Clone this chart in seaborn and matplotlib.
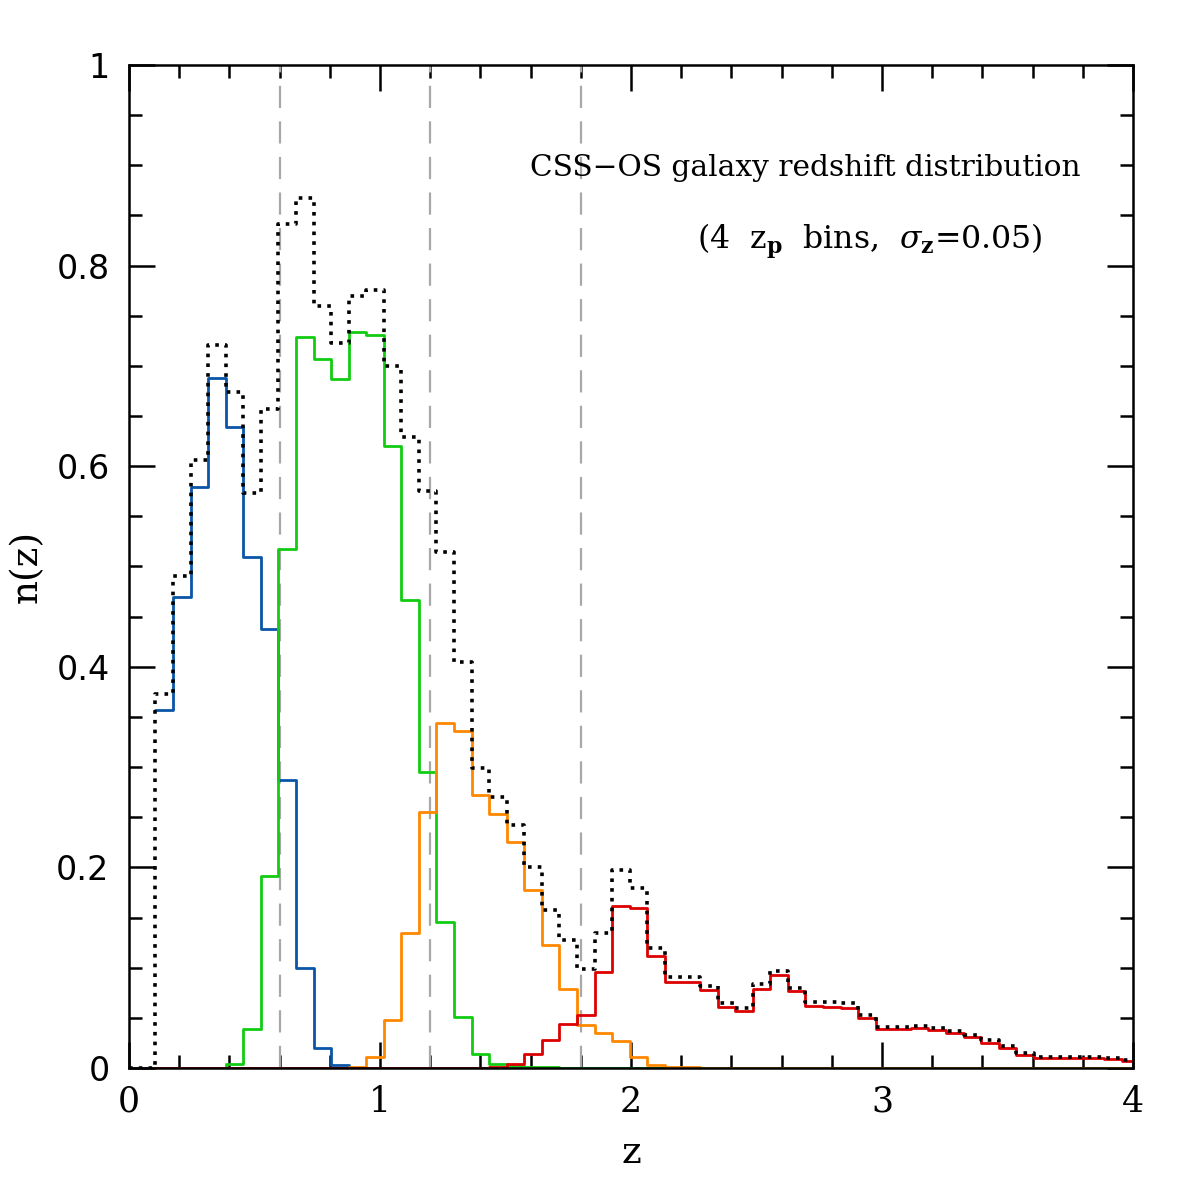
import numpy as np
import pandas as pd
import matplotlib
matplotlib.use('Agg')
import matplotlib.pyplot as plt
import seaborn as sns
from matplotlib.ticker import MultipleLocator, FixedLocator

# histogram binning: 56 bins of width 0.07 starting at z=0.105
bin_start = 0.105
bin_width = 0.07
nbins = 56

# n(z) per photo-z bin
blue = [0.357, 0.470, 0.579, 0.688, 0.639, 0.509, 0.438, 0.287, 0.100, 0.020,
        0.003] + [0.0] * 45
green = [0.0, 0.0, 0.0, 0.0, 0.004, 0.039, 0.191, 0.5175, 0.729, 0.707,
         0.687, 0.734, 0.731, 0.620, 0.467, 0.2955, 0.146, 0.051, 0.0136, 0.004,
         0.002, 0.001, 0.001] + [0.0] * 33
orange = [0.0] * 11 + [0.001, 0.011, 0.048, 0.135, 0.255, 0.344, 0.336, 0.272, 0.253,
                       0.225, 0.1775, 0.123, 0.0785, 0.043, 0.0346, 0.0265, 0.0113, 0.003, 0.001,
                       0.001] + [0.0] * 25
red = [0.0] * 19 + [0.001, 0.004, 0.0136, 0.028, 0.044, 0.053, 0.096, 0.1615, 0.160, 0.112,
                    0.086, 0.0855, 0.078, 0.0605, 0.057, 0.079, 0.093, 0.0765, 0.062, 0.061,
                    0.060, 0.0495, 0.039, 0.039, 0.040, 0.038, 0.035, 0.0306, 0.0253, 0.0196,
                    0.0126, 0.0103, 0.0103, 0.0103, 0.0096, 0.0086, 0.0066]
total = [0.373, 0.491, 0.606, 0.721, 0.674, 0.573, 0.657, 0.841, 0.867, 0.760,
         0.723, 0.770, 0.776, 0.700, 0.629, 0.575, 0.514, 0.405, 0.299, 0.270,
         0.242, 0.200, 0.158, 0.128, 0.099, 0.135, 0.197, 0.179, 0.120, 0.091,
         0.091, 0.082, 0.0645, 0.060, 0.0837, 0.097, 0.080, 0.0655, 0.0655, 0.0645,
         0.0528, 0.0412, 0.0412, 0.0422, 0.040, 0.037, 0.033, 0.0276, 0.0216, 0.0146,
         0.0113, 0.0113, 0.0113, 0.0113, 0.0103, 0.0076]

zp_cuts = [0.6, 1.2, 1.8]
xticks = [0, 1, 2, 3, 4]
yticks = [0, 0.2, 0.4, 0.6, 0.8, 1.0]
ytick_labels = ["0", "0.2", "0.4", "0.6", "0.8", "1"]

sns.set_style("ticks")
plt.rcParams['font.family'] = ['DejaVu Serif']
plt.rcParams['mathtext.fontset'] = 'dejavuserif'
plt.rcParams['text.color'] = 'black'
plt.rcParams['axes.labelcolor'] = 'black'
plt.rcParams['xtick.color'] = 'black'
plt.rcParams['ytick.color'] = 'black'

edges = bin_start + bin_width * np.arange(nbins + 1)
centers = edges[:-1] + bin_width / 2

fig = plt.figure(figsize=(11.96, 11.96), dpi=100)
ax = fig.add_axes([0.1079, 0.107, 0.8394, 0.8387])

for z in zp_cuts:
    ax.axvline(z, color='#a8a8a8', lw=1.6, dashes=(10, 6), zorder=1)

series = [(blue, '#0a55a8'), (green, '#12cc12'), (orange, '#ff8800'), (red, '#dd0000')]
for vals, col in series:
    df = pd.DataFrame({'z': centers, 'n': vals})
    sns.histplot(data=df, x='z', weights='n', bins=list(edges), element='step', fill=False,
                 color=col, lw=2.0, ax=ax, zorder=2)

# total distribution, drawn from z=0
dft = pd.DataFrame({'z': np.r_[0.05, centers], 'n': np.r_[0.0, total]})
sns.histplot(data=dft, x='z', weights='n', bins=list(np.r_[0.0, edges]),
             element='step', fill=False, color='black', lw=2.6,
             linestyle=(0, (1, 1.7)), ax=ax, zorder=3)

ax.set_xlim(0, 4)
ax.set_ylim(0, 1)
ax.xaxis.set_major_locator(FixedLocator(xticks))
ax.xaxis.set_minor_locator(MultipleLocator(0.2))
ax.yaxis.set_major_locator(FixedLocator(yticks))
ax.yaxis.set_minor_locator(MultipleLocator(0.05))
ax.set_yticklabels(ytick_labels)
ax.tick_params(which='both', direction='in', top=True, right=True, width=1.8, color='black')
ax.tick_params(which='major', length=19)
ax.tick_params(which='minor', length=9.5)
ax.tick_params(axis='x', labelsize=25, pad=12, labelcolor='black')
ax.tick_params(axis='y', labelsize=24, pad=14, labelcolor='black')
for lbl in ax.get_yticklabels():
    lbl.set_family('DejaVu Sans')
for sp in ax.spines.values():
    sp.set_linewidth(1.8)
    sp.set_color('black')

ax.set_xlabel('z', fontsize=27, labelpad=12, color='black')
ax.set_ylabel('n(z)', fontsize=27, labelpad=8, color='black')

ax.text(0.674, 0.897, 'CSS\u2212OS galaxy redshift distribution', transform=ax.transAxes,
        ha='center', va='center', fontsize=21.3, color='black')
ax.text(0.7375, 0.8245, r'(4  z$_{\mathbf{p}}$  bins,  $\sigma_{\mathbf{z}}$=0.05)',
        transform=ax.transAxes, ha='center', va='center', fontsize=22.7, color='black')

plt.savefig('out.png', dpi=100)
plt.close()
